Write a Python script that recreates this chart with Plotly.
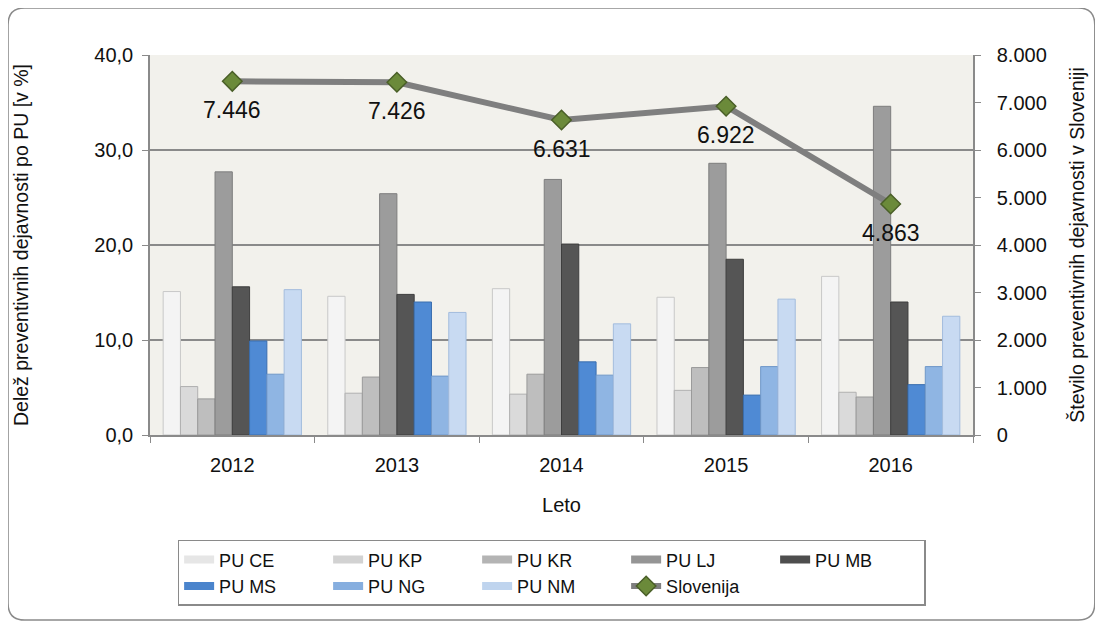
import plotly.graph_objects as go

years = ["2012", "2013", "2014", "2015", "2016"]
series_names = ["PU CE", "PU KP", "PU KR", "PU LJ", "PU MB", "PU MS", "PU NG", "PU NM"]
pu_ce = [15.1, 14.6, 15.4, 14.5, 16.7]
pu_kp = [5.1, 4.4, 4.3, 4.7, 4.5]
pu_kr = [3.8, 6.1, 6.4, 7.1, 4.0]
pu_lj = [27.7, 25.4, 26.9, 28.6, 34.6]
pu_mb = [15.6, 14.8, 20.1, 18.5, 14.0]
pu_ms = [9.9, 14.0, 7.7, 4.2, 5.3]
pu_ng = [6.4, 6.2, 6.3, 7.2, 7.2]
pu_nm = [15.3, 12.9, 11.7, 14.3, 12.5]
slovenija = [7446, 7426, 6631, 6922, 4863]

series_values = [pu_ce, pu_kp, pu_kr, pu_lj, pu_mb, pu_ms, pu_ng, pu_nm]
colors = ["#F4F4F4", "#DADADA", "#BEBEBE", "#9C9C9C", "#555555", "#4F8AD4", "#8FB5E3", "#C8DAF2"]
edges = ["#C8C8C8", "#B0B0B0", "#9A9A9A", "#7E7E7E", "#3E3E3E", "#3A6EAE", "#6F97C8", "#A3BCDD"]
legend_colors = ["#E6E6E6", "#D2D2D2", "#B4B4B4", "#959595", "#4E4E4E", "#4A84CC", "#86AEDF", "#BFD4EE"]

FONT = "Liberation Sans, Arial, sans-serif"

fig = go.Figure()
for name, vals, c, e, lc in zip(series_names, series_values, colors, edges, legend_colors):
    fig.add_trace(go.Bar(
        x=years, y=vals, name=name,
        marker=dict(color=c, line=dict(color=e, width=1)),
        yaxis="y", legendgroup=name, showlegend=False,
    ))
    # legend-only entry drawn as a wide flat bar (like the original legend key)
    fig.add_trace(go.Scatter(
        x=[None], y=[None], name=name, mode="lines",
        line=dict(color=lc, width=8), legendgroup=name, showlegend=True,
    ))

fig.add_trace(go.Scatter(
    x=years, y=slovenija, name="Slovenija", yaxis="y2",
    mode="lines+markers",
    line=dict(color="#7F7F7F", width=6),
    marker=dict(symbol="diamond", size=15, color="#6B8A3A", line=dict(color="#4A5F28", width=1.5)),
))

# category axis: annotations use the category index
annotations = [
    dict(x=i, y=v, xref="x", yref="y2", text=f"{v:,}".replace(",", "."),
         showarrow=False, yshift=-29, font=dict(size=23, color="#111111", family=FONT))
    for i, v in enumerate(slovenija)
]

# rounded chart border (paper coords)
x0, x1, y0, y1 = -0.1725, 1.148, -0.487, 1.1237
rx, ry = 0.02, 0.045
path = (f"M {x0+rx},{y0} L {x1-rx},{y0} Q {x1},{y0} {x1},{y0+ry} "
        f"L {x1},{y1-ry} Q {x1},{y1} {x1-rx},{y1} L {x0+rx},{y1} "
        f"Q {x0},{y1} {x0},{y1-ry} L {x0},{y0+ry} Q {x0},{y0} {x0+rx},{y0} Z")

fig.update_layout(
    width=1103, height=627,
    margin=dict(l=142, r=138, t=47, b=200, autoexpand=False),
    paper_bgcolor="white",
    plot_bgcolor="#F2F1EC",
    separators=",.",
    barmode="group",
    bargap=0.16,
    bargroupgap=0,
    font=dict(family=FONT, size=18, color="#111111"),
    annotations=annotations,
    shapes=[dict(type="path", path=path, xref="paper", yref="paper",
                 line=dict(color="#8A8A8A", width=1.5), layer="below")],
    xaxis=dict(
        type="category", range=[-0.5, 4.5],
        showline=True, linecolor="#8A8A8A", linewidth=1.5,
        ticks="outside", ticklen=6, tickcolor="#8A8A8A", tickson="boundaries",
        tickfont=dict(size=20), ticklabelstandoff=11,
        title=dict(text="Leto", font=dict(size=20), standoff=23),
        showgrid=False,
    ),
    yaxis=dict(
        range=[0, 40], dtick=10, tickformat=".1f",
        showline=True, linecolor="#8A8A8A", linewidth=1.5,
        ticks="outside", ticklen=6, tickcolor="#8A8A8A",
        showgrid=True, gridcolor="#8A8A8A", gridwidth=1.5,
        tickfont=dict(size=20), ticklabelstandoff=5,
        title=dict(text="Delež preventivnih dejavnosti po PU [v %]", font=dict(size=19.5), standoff=60),
        zeroline=False,
    ),
    yaxis2=dict(
        range=[0, 8000], dtick=1000, tickformat=",.0f",
        overlaying="y", side="right",
        showline=True, linecolor="#8A8A8A", linewidth=1.5,
        ticks="outside", ticklen=6, tickcolor="#8A8A8A",
        showgrid=False, zeroline=False,
        tickfont=dict(size=20), ticklabelstandoff=12,
        title=dict(text="Število preventivnih dejavnosti v Sloveniji", font=dict(size=19.5), standoff=25),
    ),
    legend=dict(
        orientation="h",
        x=0.488, xanchor="center",
        y=-0.276, yanchor="top",
        bordercolor="#8A8A8A", borderwidth=1.5,
        bgcolor="white",
        entrywidth=104,
        font=dict(size=18),
        traceorder="normal",
    ),
)

fig.write_html("out.html")
